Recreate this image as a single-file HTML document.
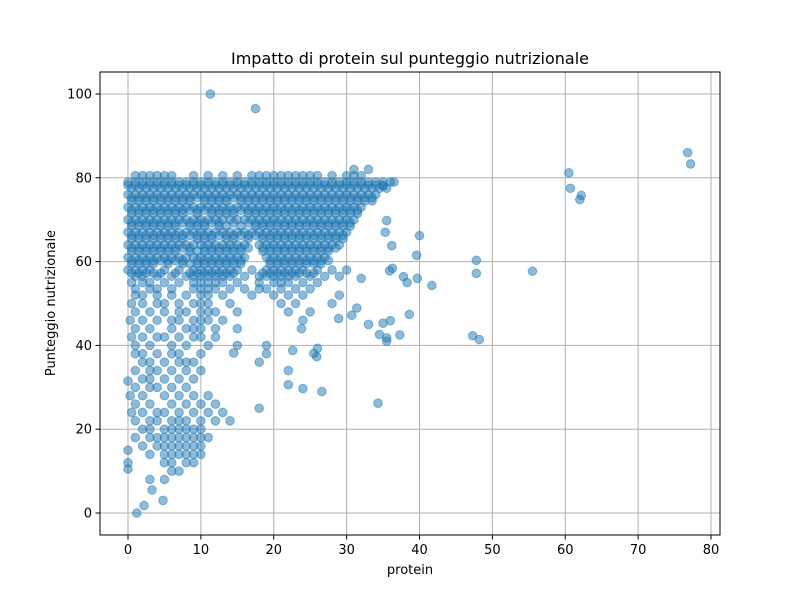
<!DOCTYPE html>
<html><head><meta charset="utf-8">
<style>
html,body{margin:0;padding:0;background:#fff;}
svg text{font-family:"DejaVu Sans","Liberation Sans",sans-serif;fill:#000;}
</style></head>
<body>
<svg id="chart" width="800" height="600" xmlns="http://www.w3.org/2000/svg">
<rect width="800" height="600" fill="#fff"/>
<g id="grid"></g>
<g id="points"></g>
<rect x="100" y="72" width="620" height="463" fill="none" stroke="#000" stroke-width="1"/>
<g id="axes"></g>
<text x="410" y="64" font-size="16" text-anchor="middle">Impatto di protein sul punteggio nutrizionale</text>
<text x="410" y="574" font-size="13" text-anchor="middle">protein</text>
<text transform="translate(55,303) rotate(-90)" font-size="13" text-anchor="middle">Punteggio nutrizionale</text>
</svg>
<script>
const xTicks = [0,10,20,30,40,50,60,70,80];
const yTicks = [0,20,40,60,80,100];
const denseRows = [
[80.5,[1,2,3,4,5,6,9,11,13,15,17,18,19,20,21,22,23,24,25,26,28,30,31,32]],
[79,[0,1,2,3,4,5,6,7,8,9,10,11,12,13,14,15,16,17,18,19,20,21,22,23,24,25,26,27,28,29,30,31,32,33,34,35,36]],
[78.25,[0,1,2,3,4,5,6,7,8,9,10,11,12,13,14,15,16,17,18,19,20,21,22,23,24,25,26,27,28,29,30,31,32,33,34,35]],
[77.5,[0.5,1.5,2.5,3.5,4.5,5.5,6.5,7.5,8.5,9.5,10.5,11.5,12.5,13.5,14.5,15.5,16.5,17.5,18.5,19.5,20.5,21.5,22.5,23.5,24.5,25.5,26.5,27.5,28.5,29.5,30.5,31.5,32.5,33.5,34.5,35.5]],
[76,[0,1,2,3,4,5,6,7,8,9,10,11,12,13,14,15,16,17,18,19,20,21,22,23,24,25,26,27,28,29,30,31,32,33,34]],
[75.25,[0.5,1.5,2.5,3.5,4.5,5.5,6.5,7.5,8.5,9.5,10.5,11.5,12.5,13.5,14.5,15.5,16.5,17.5,18.5,19.5,20.5,21.5,22.5,23.5,24.5,25.5,26.5,27.5,28.5,29.5,30.5,31.5,32.5,33.5]],
[74.5,[0.5,1.5,2.5,3.5,4.5,5.5,6.5,7.5,8.5,10.5,11.5,12.5,13.5,15.5,16.5,17.5,18.5,19.5,20.5,21.5,22.5,23.5,24.5,25.5,26.5,27.5,28.5,29.5,30.5,31.5,32.5,33.5]],
[73,[0,1,2,3,4,5,6,7,8,9,10,11,12,13,14,15,16,17,18,19,20,21,22,23,24,25,26,27,28,29,30,31,32]],
[72.25,[0.5,1.5,2.5,3.5,4.5,5.5,6.5,7.5,8.5,9.5,10.5,11.5,12.5,13.5,14.5,15.5,16.5,17.5,18.5,19.5,20.5,21.5,22.5,23.5,24.5,25.5,26.5,27.5,28.5,29.5,30.5,31.5]],
[71.5,[0.5,1.5,2.5,3.5,4.5,5.5,6.5,7.5,9.5,11.5,12.5,13.5,14.5,16.5,17.5,18.5,19.5,20.5,21.5,22.5,23.5,24.5,25.5,26.5,27.5,28.5,29.5,30.5,31.5]],
[70,[0,1,2,3,4,5,6,7,8,9,10,11,12,13,14,15,16,17,18,19,20,21,22,23,24,25,26,27,28,29,30,31]],
[69.25,[0.5,1.5,2.5,3.5,4.5,5.5,6.5,7.5,8.5,9.5,10.5,11.5,12.5,14.5,16.5,17.5,18.5,19.5,20.5,21.5,22.5,23.5,24.5,25.5,26.5,27.5,28.5,29.5,30.5]],
[68.5,[0.5,1.5,2.5,3.5,4.5,5.5,6.5,8.5,9.5,10.5,12.5,13.5,15.5,17.5,18.5,19.5,20.5,21.5,22.5,23.5,24.5,25.5,26.5,27.5,28.5,29.5,30.5]],
[67,[0,1,2,3,4,5,6,7,8,9,10,11,12,13,14,15,16,17,18,19,20,21,22,23,24,25,26,27,28,29,30]],
[66.25,[0.5,1.5,2.5,3.5,4.5,5.5,6.5,7.5,8.5,9.5,10.5,11.5,12.5,13.5,14.5,15.5,16.5,17.5,18.5,19.5,20.5,21.5,22.5,23.5,24.5,25.5,26.5,27.5,28.5,29.5]],
[65.5,[0.5,1.5,2.5,3.5,4.5,5.5,6.5,7.5,9.5,10.5,11.5,13.5,14.5,16.5,18.5,19.5,20.5,21.5,22.5,23.5,24.5,25.5,26.5,27.5,28.5,29.5]],
[64,[0,1,2,3,4,5,6,7,8,9,10,11,12,13,14,15,16,18,19,20,21,22,23,24,25,26,27,28,29]],
[63.25,[0.5,1.5,2.5,3.5,4.5,5.5,6.5,7.5,8.5,10.5,11.5,12.5,13.5,14.5,15.5,16.5,18.5,19.5,20.5,21.5,22.5,23.5,24.5,25.5,26.5,27.5,28.5]],
[62.5,[0.5,1.5,2.5,3.5,4.5,5.5,6.5,8.5,9.5,10.5,11.5,12.5,13.5,14.5,15.5,18.5,19.5,20.5,21.5,22.5,23.5,24.5,25.5,26.5,27.5]],
[61,[0,1,2,3,4,5,6,7,8,9,10,11,12,13,14,15,16,19,20,21,22,23,24,25,26,27]],
[60.25,[0.5,1.5,2.5,3.5,4.5,5.5,6.5,7.5,9.5,10.5,11.5,12.5,13.5,14.5,15.5,19.5,20.5,21.5,22.5,23.5,24.5,25.5,26.5,27.5]],
[59.5,[0.5,1.5,2.5,3.5,5.5,7.5,8.5,9.5,10.5,11.5,12.5,13.5,14.5,15.5,19.5,20.5,21.5,22.5,23.5,24.5,25.5,26.5]],
[58,[0,1,2,3,5,7,9,10,11,12,13,14,15,17,19,20,21,22,23,24,26,28]],
[57.25,[0.5,1.5,2.5,3.5,4.5,6.5,8.5,9.5,10.5,11.5,12.5,13.5,14.5,18.5,19.5,20.5,21.5,22.5,23.5,24.5,25.5]],
[56.5,[1,2,4,6,8,9,10,11,12,13,14,16,18,19,20,21,22,23,25,27,29]],
[55,[0.5,2,3,5,7,9,10,11,12,13,15,18,20,21,22,24,26]],
[53.5,[1,3,4,6,9,10,11,12,14,16,18,19,21,23,25]],
[52,[1,2,4,6,8,10,11,13,17,20,22,24,29]],
[50,[0.5,2,4,5,7,9,10,11,14,21,23,28]],
[48,[1,3,5,7,8,10,11,12,15,22,25]],
[46,[0.3,2,4,6,7,9,10,11,13,24]],
[44,[1,3,6,8,9,10,12]],
[42,[0.5,2,4,5,7,9,10,12]],
[40,[1,3,6,8,11,15,19]],
[38,[1,2,4,6,7,10]],
[36,[2,3,5,7,8,9]],
[34,[1,3,4,6,8,10]],
[32,[2,3,5,7,9]],
[30,[1,3,4,6,8]],
[28,[0.3,2,5,7,9,11]],
[26,[1,3,6,8,10,12]],
[24,[0.5,2,4,5,7,9,11,13]],
[22,[1,3,4,6,7,8,10,12,14]],
[20,[2,3,5,6,7,8,9,10]],
[18,[1,3,4,5,6,7,8,9,10,11]],
[16,[2,4,5,6,7,8,9,10]],
[14,[3,5,6,7,8,9,10]],
[12,[0,5,6,8,9]],
[10,[6,7]],
[8,[3,5]]
];
const outliers = [[11.3,100],[17.5,96.5],[76.8,86],[77.2,83.3],[60.5,81.2],[60.7,77.5],[62.2,75.8],[62,74.8],[47.8,60.3],[47.8,57.2],[55.5,57.7],[47.3,42.3],[48.2,41.4],[34.3,26.2],[40,66.2],[41.7,54.3],[39.7,56],[39.6,61.5],[38.6,47.4],[37.8,56.4],[38.3,55],[36.3,58.4],[35.9,57.8],[37.3,42.5],[35.5,41],[35.5,41.8],[34.5,42.6],[35,45.3],[36,45.9],[33,45],[31.4,48.9],[30.7,47.2],[28.9,46.4],[26.6,29],[24,29.7],[25.9,37.3],[25.5,38.1],[26,39.3],[23.8,44],[22.6,38.8],[22,34],[22,30.6],[19,38],[18,36],[18,25],[0,31.5],[1.2,0],[2.2,1.8],[4.8,3],[3.3,5.5],[0,15],[0,10.5],[32,56],[30,58],[36.2,63.8],[35.3,67],[35.5,69.8],[15,44],[14.5,38.2],[33,82],[31,82],[36.5,79],[35,78]];

const NS="http://www.w3.org/2000/svg";
const sx = v => 128 + v*(711-128)/80;
const sy = v => 513 - v*(513-94)/100;
const grid=document.getElementById('grid'), axes=document.getElementById('axes'), pts=document.getElementById('points');
function mk(tag,attrs,parent){const e=document.createElementNS(NS,tag);for(const k in attrs)e.setAttribute(k,attrs[k]);parent.appendChild(e);return e;}
xTicks.forEach(t=>{
  const l=mk('line',{x1:sx(t),x2:sx(t),y1:72,y2:535,stroke:'#b0b0b0','stroke-width':1},grid);
  
  
  mk('line',{x1:sx(t),x2:sx(t),y1:535,y2:539.5,stroke:'#000'},axes);
  const tx=mk('text',{x:sx(t),y:554,'font-size':13,'text-anchor':'middle'},axes);
  tx.textContent=t;
  
  
});
yTicks.forEach(t=>{
  const l=mk('line',{x1:100,x2:720,y1:sy(t),y2:sy(t),stroke:'#b0b0b0','stroke-width':1},grid);
  
  
  mk('line',{x1:95.5,x2:100,y1:sy(t),y2:sy(t),stroke:'#000'},axes);
  const tx=mk('text',{x:92,y:sy(t)+4.5,'font-size':13,'text-anchor':'end'},axes);
  tx.textContent=t;
  
  
});
function dot(x,y){
  const c=mk('circle',{cx:sx(x),cy:sy(y),r:4.3,fill:'#1f77b4','fill-opacity':0.5,stroke:'#1f77b4','stroke-opacity':0.5,'stroke-width':1},pts);
  
  
}
denseRows.forEach(r=>r[1].forEach(x=>dot(x,r[0])));
outliers.forEach(p=>dot(p[0],p[1]));
</script>
</body></html>
